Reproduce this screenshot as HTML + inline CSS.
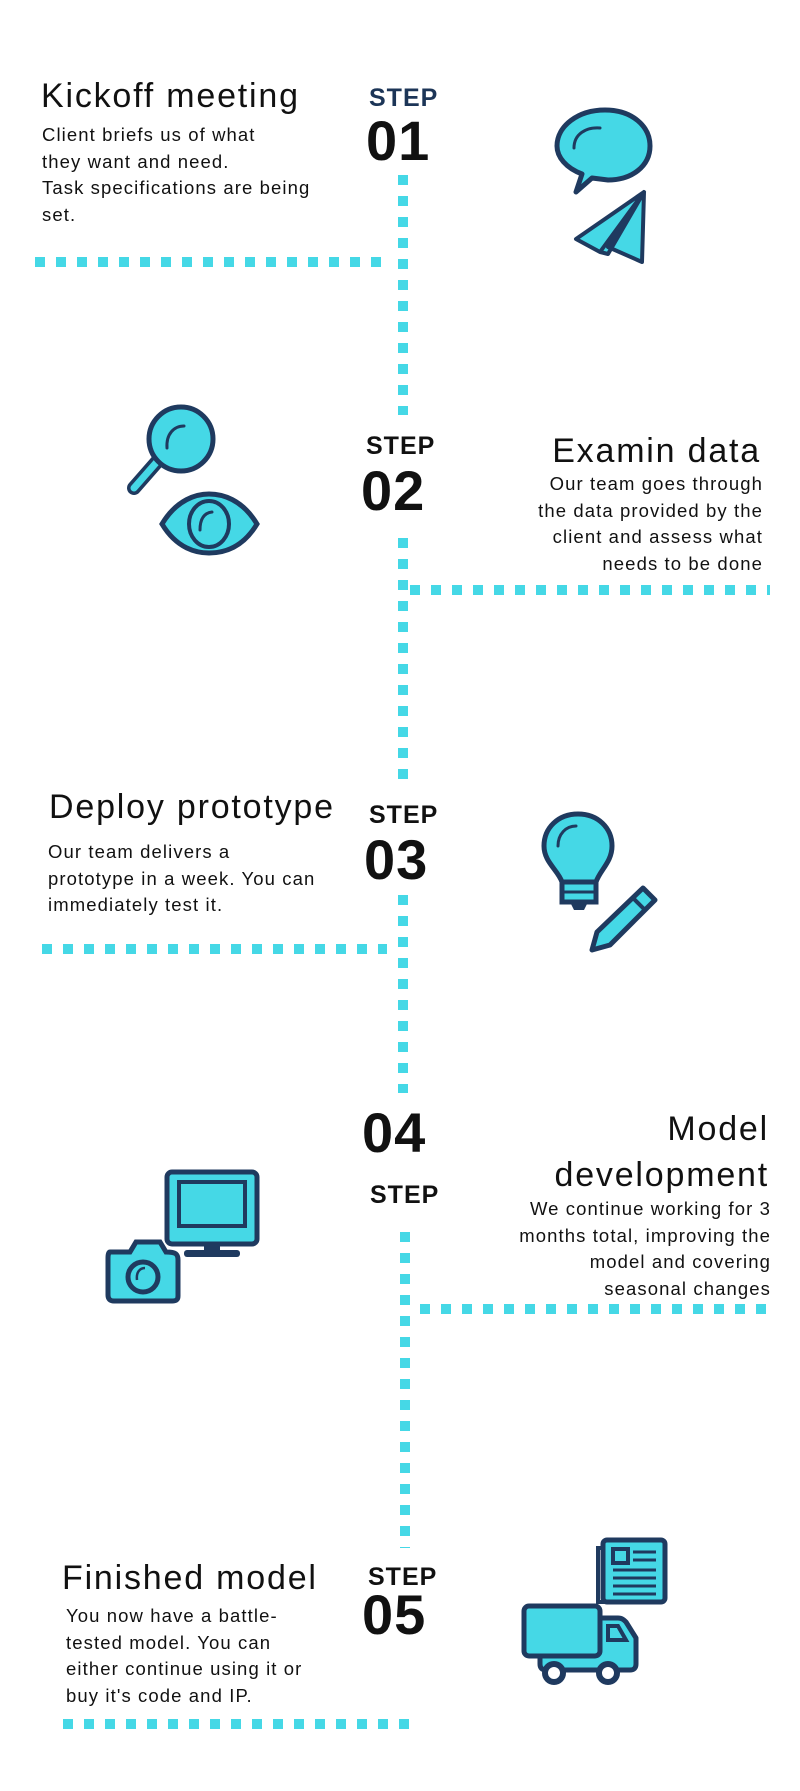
<!DOCTYPE html>
<html><head><meta charset="utf-8"><style>
body{margin:0;background:#fff;}
#c{position:relative;width:800px;height:1791px;overflow:hidden;font-family:"Liberation Sans",sans-serif;color:#111;}
.v{position:absolute;width:10px;background:repeating-linear-gradient(to bottom,#45d8e6 0 10px,transparent 10px 21px);}
.h{position:absolute;height:10px;background:repeating-linear-gradient(to right,#45d8e6 0 10px,transparent 10px 21px);}
.t{position:absolute;white-space:nowrap;}
.title{font-size:34px;font-weight:300;letter-spacing:1.8px;}
.body{font-size:18.5px;line-height:26.5px;letter-spacing:1.1px;}
.step{font-size:25px;font-weight:bold;letter-spacing:1px;}
.num{font-size:56px;font-weight:bold;letter-spacing:1px;line-height:1;}
svg{position:absolute;}
</style></head><body><div id="c">
<!-- dotted lines -->
<div class="v" style="left:398px;top:175px;height:240px"></div>
<div class="h" style="left:35px;top:257px;width:350px"></div>
<div class="v" style="left:398px;top:538px;height:242px"></div>
<div class="h" style="left:410px;top:585px;width:360px"></div>
<div class="v" style="left:398px;top:895px;height:198px"></div>
<div class="h" style="left:42px;top:944px;width:345px"></div>
<div class="v" style="left:400px;top:1232px;height:316px"></div>
<div class="h" style="left:420px;top:1304px;width:350px"></div>
<div class="h" style="left:63px;top:1719px;width:350px"></div>

<!-- step 1 -->
<div class="t title" style="left:41px;top:77px">Kickoff meeting</div>
<div class="t body" style="left:42px;top:122px">Client briefs us of what<br>they want and need.<br>Task specifications are being<br>set.</div>
<div class="t step" style="left:369px;top:84px;color:#1c3557">STEP</div>
<div class="t num" style="left:366px;top:113px">01</div>

<!-- step 2 -->
<div class="t step" style="left:366px;top:432px">STEP</div>
<div class="t num" style="left:361px;top:463px">02</div>
<div class="t title" style="right:39px;top:432px;text-align:right">Examin data</div>
<div class="t body" style="right:37px;top:471px;text-align:right">Our team goes through<br>the data provided by the<br>client and assess what<br>needs to be done</div>

<!-- step 3 -->
<div class="t title" style="left:49px;top:788px">Deploy prototype</div>
<div class="t body" style="left:48px;top:839px">Our team delivers a<br>prototype in a week. You can<br>immediately test it.</div>
<div class="t step" style="left:369px;top:801px">STEP</div>
<div class="t num" style="left:364px;top:832px">03</div>

<!-- step 4 -->
<div class="t num" style="left:362px;top:1105px">04</div>
<div class="t step" style="left:370px;top:1181px">STEP</div>
<div class="t title" style="right:31px;top:1106px;text-align:right;line-height:46px">Model<br>development</div>
<div class="t body" style="right:29px;top:1196px;text-align:right">We continue working for 3<br>months total, improving the<br>model and covering<br>seasonal changes</div>

<!-- step 5 -->
<div class="t title" style="left:62px;top:1559px">Finished model</div>
<div class="t body" style="left:66px;top:1603px">You now have a battle-<br>tested model. You can<br>either continue using it or<br>buy it's code and IP.</div>
<div class="t step" style="left:368px;top:1563px">STEP</div>
<div class="t num" style="left:362px;top:1587px">05</div>

<!-- icons -->
<svg style="left:550px;top:104px" width="110" height="165" viewBox="0 0 110 165">
<path d="M55 6 C82 6 100 22 100 42 C100 62 82 76 58 76 L42 74 L26 88 L32 70 C16 64 7 53 7 42 C7 22 28 6 55 6Z" fill="#45d8e6" stroke="#1f3a5f" stroke-width="5" stroke-linejoin="round"/>
<path d="M24 44 C24 30 36 23 50 24" fill="none" stroke="#1f3a5f" stroke-width="3" stroke-linecap="round"/>
<path d="M94 88 L26 135 L50 148 Z M94 88 L58 150 L50 148 M94 88 L92 158 L58 143Z" fill="#45d8e6" stroke="#1f3a5f" stroke-width="4" stroke-linejoin="round"/>
</svg>
<svg style="left:122px;top:404px" width="140" height="155" viewBox="0 0 140 155">
<line x1="12" y1="84" x2="40" y2="52" stroke="#1f3a5f" stroke-width="14" stroke-linecap="round"/>
<line x1="12" y1="84" x2="40" y2="52" stroke="#45d8e6" stroke-width="7" stroke-linecap="round"/>
<ellipse cx="59" cy="35" rx="32" ry="32" fill="#45d8e6" stroke="#1f3a5f" stroke-width="5"/>
<path d="M45 44 C44 30 52 22 62 22" fill="none" stroke="#1f3a5f" stroke-width="3" stroke-linecap="round"/>
<path d="M40 120 C55 95 75 90 87 90 C100 90 120 95 135 120 C120 145 100 149 87 149 C75 149 55 145 40 120Z" fill="#45d8e6" stroke="#1f3a5f" stroke-width="5"/>
<ellipse cx="87" cy="120" rx="20" ry="23" fill="#45d8e6" stroke="#1f3a5f" stroke-width="4"/>
<path d="M78 126 C78 115 82 109 90 108" fill="none" stroke="#1f3a5f" stroke-width="3" stroke-linecap="round"/>
</svg>
<svg style="left:540px;top:810px" width="125" height="145" viewBox="0 0 125 145">
<path d="M38 4 C58 4 72 18 72 36 C72 52 60 60 56 72 L22 72 C18 60 4 52 4 36 C4 18 18 4 38 4Z" fill="#45d8e6" stroke="#1f3a5f" stroke-width="5"/>
<path d="M18 36 C18 24 26 16 36 16" fill="none" stroke="#1f3a5f" stroke-width="3" stroke-linecap="round"/>
<rect x="22" y="72" width="34" height="20" fill="#45d8e6" stroke="#1f3a5f" stroke-width="5"/>
<line x1="24" y1="82" x2="54" y2="82" stroke="#1f3a5f" stroke-width="3"/>
<path d="M30 92 L48 92 L44 100 L34 100Z" fill="#1f3a5f"/>
<path d="M103 78 L115 90 L70 135 L52 140 L57 122Z" fill="#45d8e6" stroke="#1f3a5f" stroke-width="5" stroke-linejoin="round"/>
<line x1="93" y1="88" x2="105" y2="100" stroke="#1f3a5f" stroke-width="4"/>
</svg>
<svg style="left:104px;top:1168px" width="160" height="138" viewBox="0 0 160 138">
<rect x="63" y="4" width="90" height="72" rx="5" fill="#45d8e6" stroke="#1f3a5f" stroke-width="5"/>
<rect x="75" y="14" width="66" height="44" fill="#45d8e6" stroke="#1f3a5f" stroke-width="4"/>
<rect x="100" y="76" width="16" height="8" fill="#1f3a5f"/>
<rect x="80" y="82" width="56" height="7" rx="3" fill="#1f3a5f"/>
<path d="M6 84 L26 84 L32 74 L56 74 L62 84 C72 84 74 86 74 92 L74 128 C74 132 72 133 68 133 L10 133 C6 133 4 131 4 127 L4 90 C4 86 5 84 6 84Z" fill="#45d8e6" stroke="#1f3a5f" stroke-width="5"/>
<circle cx="39" cy="109" r="15" fill="#45d8e6" stroke="#1f3a5f" stroke-width="5"/>
<path d="M33 112 C32 104 36 100 41 100" fill="none" stroke="#1f3a5f" stroke-width="2.5"/>
</svg>
<svg style="left:520px;top:1536px" width="150" height="152" viewBox="0 0 150 152">
<rect x="83" y="4" width="62" height="62" rx="4" fill="#45d8e6" stroke="#1f3a5f" stroke-width="5"/>
<path d="M83 12 L78 12 L78 66 L86 66" fill="none" stroke="#1f3a5f" stroke-width="4"/>
<rect x="93" y="13" width="15" height="14" fill="none" stroke="#1f3a5f" stroke-width="4"/>
<g stroke="#1f3a5f" stroke-width="3"><line x1="113" y1="16" x2="136" y2="16"/><line x1="113" y1="24" x2="136" y2="24"/><line x1="93" y1="34" x2="136" y2="34"/><line x1="93" y1="42" x2="136" y2="42"/><line x1="93" y1="50" x2="136" y2="50"/><line x1="93" y1="58" x2="136" y2="58"/></g>
<path d="M20 90 L80 90 L80 82 L98 82 C102 82 104 84 106 86 L116 102 L116 128 C116 132 114 134 110 134 L26 134 C22 134 20 132 20 128Z" fill="#45d8e6" stroke="#1f3a5f" stroke-width="5" stroke-linejoin="round"/>
<rect x="4" y="70" width="76" height="50" rx="5" fill="#45d8e6" stroke="#1f3a5f" stroke-width="5"/>
<path d="M88 90 L98 90 L106 104 L88 104Z" fill="none" stroke="#1f3a5f" stroke-width="4"/>
<circle cx="34" cy="137" r="9" fill="#fff" stroke="#1f3a5f" stroke-width="6"/>
<circle cx="88" cy="137" r="9" fill="#fff" stroke="#1f3a5f" stroke-width="6"/>
</svg>
</div></body></html>
